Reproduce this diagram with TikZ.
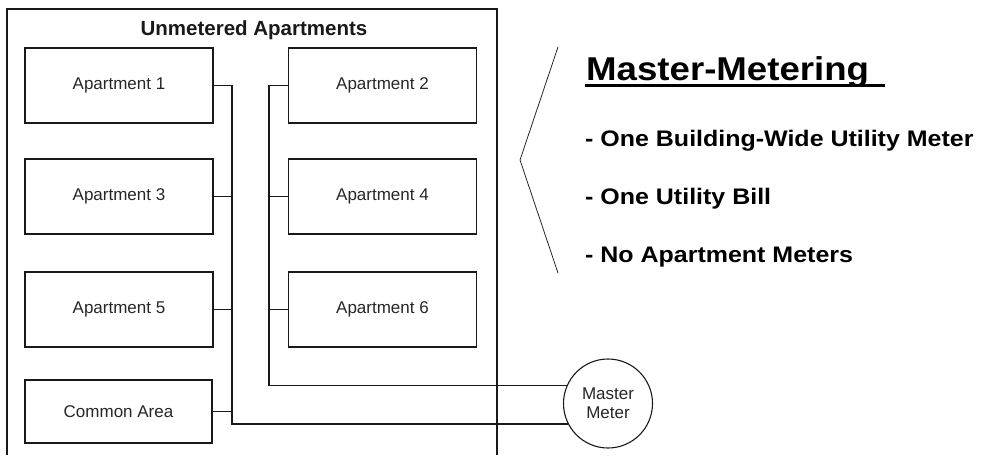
\documentclass[tikz,border=0pt]{standalone}
\usepackage{fontspec}
\setmainfont{Liberation Sans}
\newfontfamily\widefont[FakeStretch=1.11]{Liberation Sans}
\begin{document}
\begin{tikzpicture}[x=1pt,y=-1pt,
  apt/.style={draw=black!90, line width=1.1pt, minimum width=188pt, minimum height=75pt, inner sep=0pt, text=black!85, font=\fontsize{17}{20}\selectfont},
  wire/.style={draw=black!90, line width=1.1pt},
  bullet/.style={anchor=base west, inner sep=0pt, font=\widefont\bfseries\fontsize{22.5}{26}\selectfont}]
\useasboundingbox (0,0) rectangle (982,455);
% building
\draw[line width=1.1pt, black!90] (7,455) -- (7,9) -- (497,9) -- (497,455);
\node[anchor=base, inner sep=0pt, text=black!90, font=\bfseries\fontsize{20.5}{24}\selectfont] (bt) at (254,35) {Unmetered Apartments};
% apartments
\node[apt] (a1) at (119,85.5) {Apartment 1};
\node[apt] (a2) at (382.5,85.5) {Apartment 2};
\node[apt] (a3) at (119,196.5) {Apartment 3};
\node[apt] (a4) at (382.5,196.5) {Apartment 4};
\node[apt] (a5) at (119,309.5) {Apartment 5};
\node[apt] (a6) at (382.5,309.5) {Apartment 6};
\node[apt, minimum width=187pt, minimum height=63pt] (ca) at (118.5,411.5) {Common Area};
% meter
\node[draw=black!90, line width=1.1pt, circle, minimum size=89pt, inner sep=0pt, align=center, text=black!85, font=\fontsize{17}{19}\selectfont] (m) at (608,403.5) {Master\\Meter};
% buses
\coordinate (L) at (232,0);
\coordinate (R) at (269,0);
\draw[wire] (a1.east) -- (a1.east -| L) -- (L |- m.207) -- (m.207);
\draw[wire] (a3.east) -- (a3.east -| L);
\draw[wire] (a5.east) -- (a5.east -| L);
\draw[wire] (ca.east) -- (ca.east -| L);
\draw[wire] (a2.west) -- (a2.west -| R) -- (R |- m.156) -- (m.156);
\draw[wire] (a4.west) -- (a4.west -| R);
\draw[wire] (a6.west) -- (a6.west -| R);
% brace
\coordinate (s1) at (558,47);
\coordinate (s2) at (520,160);
\coordinate (s3) at (558,273);
\draw[line width=0.8pt, black!85] (s1) -- (s2) -- (s3);
% text
\node[anchor=base west, inner sep=0pt, font=\widefont\bfseries\fontsize{33}{38}\selectfont] (title) at (586,80) {Master-Metering};
\draw[line width=2.6pt] (585,85.5) -- (885,85.5);
\node[bullet] (b1) at (585,146) {- One Building-Wide Utility Meter};
\node[bullet] (b2) at (585,204) {- One Utility Bill};
\node[bullet] (b3) at (585,262) {- No Apartment Meters};
\end{tikzpicture}
\end{document}
